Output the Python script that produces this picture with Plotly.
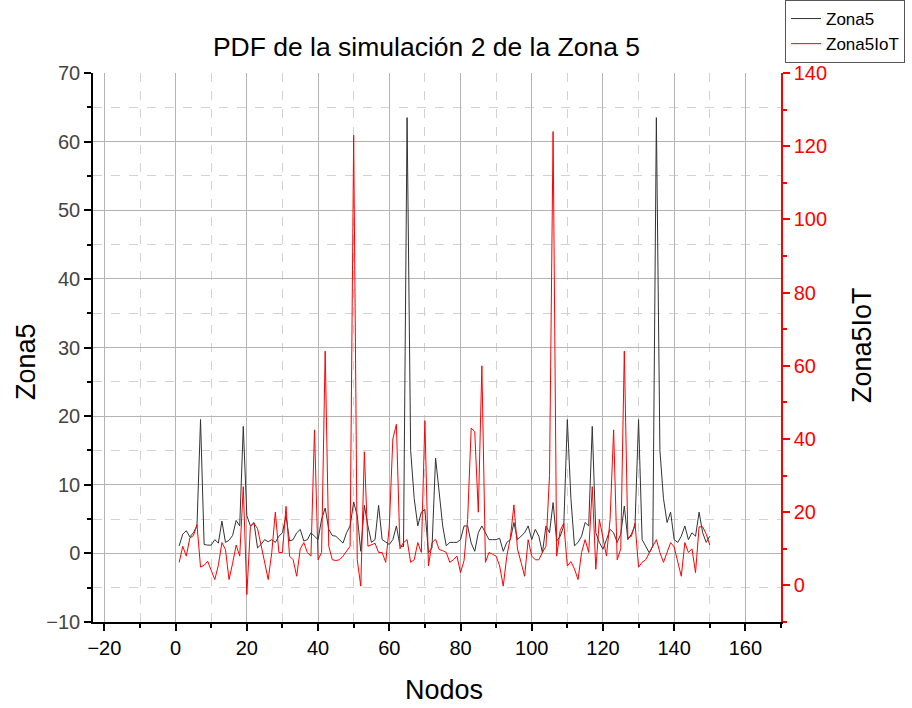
import plotly.graph_objects as go

# Node index and the two PDF series (Zona5 on the left axis, Zona5IoT on the right axis)
nodos = list(range(1, 151))

zona5 = [
    1.1, 2.8, 3.3, 2.4, 3.0, 4.0, 19.5, 1.3, 1.2, 1.2,
    2.0, 1.5, 4.7, 1.6, 1.9, 2.6, 4.8, 4.0, 18.5, 5.5,
    4.0, 4.5, 0.8, 1.3, 2.0, 1.7, 2.0, 1.6, 2.5, 3.0,
    5.5, 1.8, 2.0, 3.0, 3.5, 1.8, 2.0, 3.0, 2.5, 2.0,
    5.0, 6.6, 3.5, 2.6, 2.5, 2.0, 1.5, 3.0, 4.0, 7.5,
    5.5, 0.3, 7.0, 4.0, 1.6, 2.0, 7.0, 2.0, 1.6, 1.3,
    2.0, 4.0, 1.1, 1.0, 63.5, 15.0, 8.0, 4.0, 6.0, 6.4,
    0.1, 0.8, 13.9, 8.4, 4.0, 1.1, 1.6, 1.6, 1.6, 2.0,
    4.0, 4.0, 1.5, 0.3, 3.0, 4.0, 3.0, 2.0, 2.0, 2.0,
    2.2, 0.3, 1.6, 2.0, 4.5, 2.0, 2.5, 3.0, 4.0, 2.0,
    3.5, 2.5, 0.1, 4.0, 3.0, 7.4, 1.8, 2.5, 4.0, 19.5,
    8.0, 1.1, 1.6, 2.5, 4.5, 4.0, 18.5, 3.0, 1.6, 0.6,
    2.0, 3.5, 3.0, 1.6, 2.8, 6.9, 2.0, 2.8, 4.0, 19.5,
    2.0, 1.1, 0.1, 1.1, 63.5, 15.0, 8.0, 4.5, 6.0, 2.0,
    1.6, 2.5, 4.0, 2.0, 3.0, 2.5, 6.0, 3.0, 1.6, 2.5,
]

zona5_iot = [
    6.3, 10.7, 8.0, 13.0, 13.6, 16.6, 5.0, 5.5, 6.6, 3.9,
    1.6, 5.5, 11.7, 9.8, 1.6, 6.0, 11.0, 8.0, 27.0, -2.5,
    16.0, 17.0, 15.5, 11.0, 6.0, 1.6, 9.0, 20.0, 9.0, 9.0,
    21.6, 8.0, 7.0, 2.5, 10.0, 11.7, 9.0, 8.0, 42.5, 7.0,
    9.0, 64.0, 10.7, 7.0, 6.8, 7.0, 8.0, 9.5, 10.7, 123.0,
    7.0, -0.2, 36.5, 10.7, 11.0, 11.5, 9.0, 9.0, 6.3, 16.0,
    40.0, 44.0, 10.0, 11.7, 12.5, 6.3, 7.0, 11.7, 9.0, 45.0,
    5.3, 11.7, 12.6, 9.8, 9.5, 9.0, 6.3, 7.0, 8.0, 3.5,
    6.8, 18.0, 43.0, 42.0, 20.0, 60.0, 6.3, 9.0, 8.5, 8.0,
    5.3, -0.2, 8.0, 13.0, 22.0, 10.0, 6.3, 2.5, 12.5, 8.0,
    7.0, 7.0, 9.0, 10.7, 30.0, 124.0, 8.0, 15.0, 17.0, 5.3,
    6.5, 4.5, 1.6, 9.0, 12.5, 9.0, 27.0, 4.4, 18.0, 12.5,
    8.0, 18.0, 42.5, 7.0, 10.0, 64.0, 13.0, 13.4, 17.0, 5.0,
    6.3, 7.0, 9.0, 10.7, 12.5, 9.0, 6.3, 9.0, 11.7, 10.5,
    6.5, 2.5, 11.7, 9.0, 10.0, 3.5, 16.0, 16.0, 14.0, 11.0,
]

FONT = "Liberation Sans, Arial, sans-serif"
RED = "#ff0000"
W, H = 912, 708
# plot area in page pixels
LEFT, RIGHT, TOP, BOTTOM = 93, 781, 73, 622

fig = go.Figure()
fig.add_trace(go.Scatter(
    x=nodos, y=zona5, name="Zona5", mode="lines",
    line=dict(color="#333333", width=1), yaxis="y",
))
fig.add_trace(go.Scatter(
    x=nodos, y=zona5_iot, name="Zona5IoT", mode="lines",
    line=dict(color=RED, width=1), yaxis="y2",
))

minor_grid = dict(showgrid=True, gridcolor="#d2d2d2", griddash="dash", gridwidth=1)

fig.update_layout(
    width=W, height=H,
    paper_bgcolor="white", plot_bgcolor="white",
    margin=dict(l=LEFT, r=W - RIGHT, t=TOP, b=H - BOTTOM, autoexpand=False),
    font=dict(family=FONT, color="black"),
    title=dict(
        text="PDF de la simulación 2 de la Zona 5",
        x=426.5 / W, xanchor="center", xref="container",
        y=1 - 47 / H, yanchor="middle", yref="container",
        font=dict(size=26.5, color="black", family=FONT),
    ),
    xaxis=dict(
        range=[-23.2, 170], dtick=20, tick0=0, automargin=False,
        showline=True, linecolor="black", linewidth=1.5,
        ticks="outside", ticklen=7, tickwidth=1.5, tickcolor="black",
        tickfont=dict(size=20, color="black"),
        showgrid=True, gridcolor="#b4b4b4", gridwidth=1,
        zeroline=False,
        minor=dict(dtick=10, tick0=0, ticks="outside", ticklen=4, tickcolor="black", **minor_grid),
    ),
    yaxis=dict(
        range=[-10, 70], dtick=10, tick0=0, automargin=False,
        showline=True, linecolor="black", linewidth=1.5,
        ticks="outside", ticklen=7, tickwidth=1.5, tickcolor="black",
        tickfont=dict(size=20, color="#444444"),
        showgrid=True, gridcolor="#b4b4b4", gridwidth=1,
        zeroline=False,
        minor=dict(dtick=5, tick0=0, ticks="outside", ticklen=4, tickcolor="black", **minor_grid),
    ),
    yaxis2=dict(
        range=[-10, 140], dtick=20, tick0=0, automargin=False,
        overlaying="y", side="right", anchor="x",
        showline=True, linecolor=RED, linewidth=1.5,
        ticks="outside", ticklen=7, tickwidth=1.5, tickcolor=RED,
        tickfont=dict(size=20, color=RED),
        showgrid=False, zeroline=False,
        minor=dict(dtick=10, tick0=0, ticks="outside", ticklen=4, tickcolor=RED),
    ),
    legend=dict(
        xref="container", yref="container",
        x=785 / W, xanchor="left", y=1.0, yanchor="top",
        bgcolor="white", bordercolor="#555555", borderwidth=1,
        font=dict(size=17, color="black"),
        tracegroupgap=0, itemwidth=30,
    ),
    showlegend=True,
)


def to_paper(px, py):
    """Page pixel position -> paper fraction of the plot area."""
    return (px - LEFT) / (RIGHT - LEFT), (BOTTOM - py) / (BOTTOM - TOP)


# Axis titles
axis_titles = [
    ("Zona5", 26, 362, -90),
    ("Zona5IoT", 862, 345, -90),
    ("Nodos", 444, 690, 0),
]
for text, px, py, angle in axis_titles:
    ax, ay = to_paper(px, py)
    fig.add_annotation(
        text=text, x=ax, y=ay, xref="paper", yref="paper",
        showarrow=False, textangle=angle,
        font=dict(size=27, color="black", family=FONT),
        xanchor="center", yanchor="middle",
    )

fig.write_html("out.html")
